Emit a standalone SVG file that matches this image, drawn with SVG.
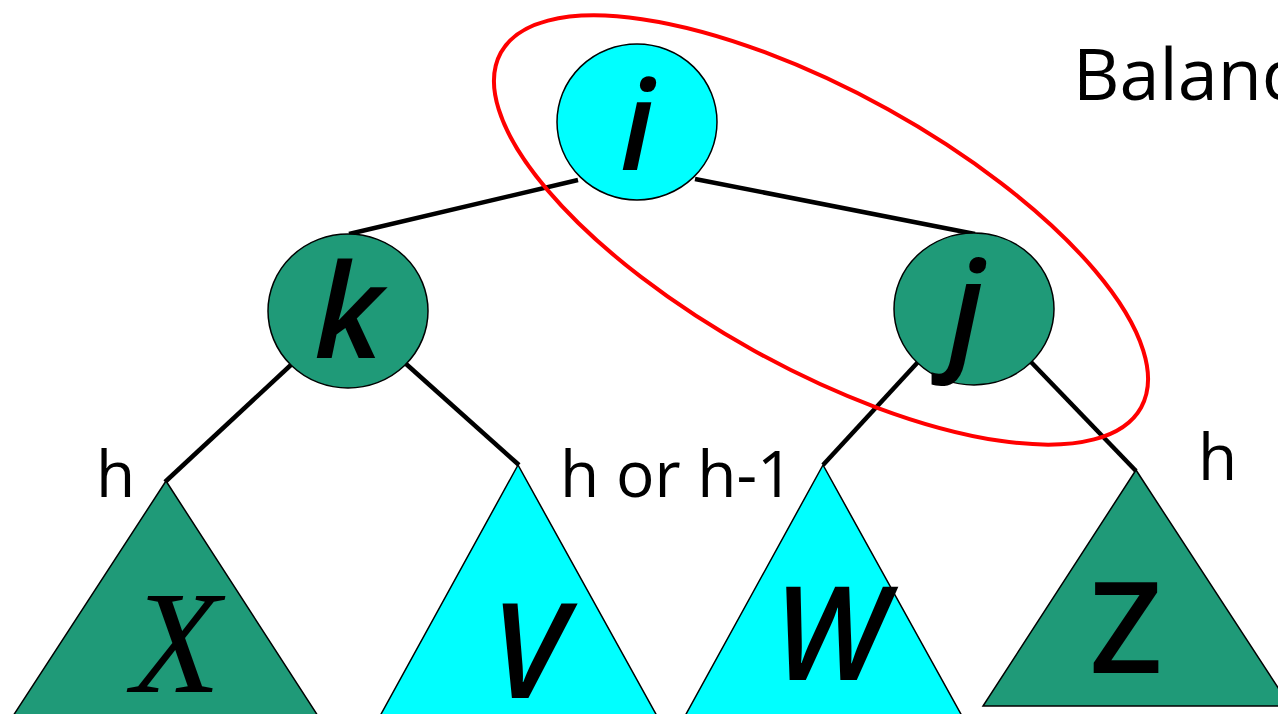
<svg xmlns="http://www.w3.org/2000/svg" width="1278" height="714" viewBox="0 0 1278 714">
<style>
.edge{stroke:#000;stroke-width:4.5;fill:none;stroke-linecap:butt}
.teal{fill:#1F9A78;stroke:#000;stroke-width:1.5}
.cyan{fill:#00FFFF;stroke:#000;stroke-width:1.5}
.lbl{font-family:"Open Sans","Liberation Sans",sans-serif;font-size:64px;fill:#000}
.ital{font-family:"Open Sans","Liberation Sans",sans-serif;font-style:italic;fill:#000;text-anchor:middle}
</style>
<rect width="1278" height="714" fill="#fff"/>
<g id="connectors">
<line class="edge" x1="578" y1="180" x2="349" y2="234"/>
<line class="edge" x1="695" y1="179" x2="975" y2="234"/>
<line class="edge" x1="293" y1="363" x2="165" y2="482"/>
<line class="edge" x1="405" y1="363" x2="519" y2="465"/>
<line class="edge" x1="918" y1="362" x2="823" y2="465"/>
<line class="edge" x1="1031" y1="362" x2="1136" y2="471"/>
</g>
<g id="node-i">
<ellipse class="cyan" cx="637" cy="122" rx="80" ry="78"/>
<text class="ital" x="637" y="170" font-size="125" font-weight="600">i</text>
</g>
<g id="node-k">
<ellipse class="teal" cx="348" cy="311" rx="80" ry="77"/>
<text class="ital" x="348" y="358" font-size="130" font-weight="600">k</text>
</g>
<g id="node-j">
<ellipse class="teal" cx="974" cy="309" rx="80" ry="76"/>
<text class="ital" x="966" y="355" font-size="130" font-weight="600">j</text>
</g>
<g id="tree-X">
<polygon class="teal" points="166,481 13,716 318,716"/>
<text x="176" y="692" font-family="Liberation Serif,serif" font-style="italic" font-size="146" text-anchor="middle">X</text>
</g>
<g id="tree-V">
<polygon class="cyan" points="518,465 380,716 657,716"/>
<text class="ital" x="528" y="698" font-size="132" font-weight="600">V</text>
</g>
<g id="tree-W">
<polygon class="cyan" points="823,465 685,716 962,716"/>
<text class="ital" x="830" y="680" font-size="130" font-weight="600">W</text>
</g>
<g id="tree-Z">
<polygon class="teal" points="1136,470 983,706 1290,706"/>
<text x="1126" y="673" font-family="Open Sans,Liberation Sans,sans-serif" font-size="126" font-weight="600" text-anchor="middle">Z</text>
</g>
<g id="labels">
<text class="lbl" x="96" y="497">h</text>
<text class="lbl" x="560" y="497">h or h-1</text>
<text class="lbl" x="1198" y="480">h</text>
<text x="1073" y="100" font-family="Open Sans,Liberation Sans,sans-serif" font-size="72" fill="#000">Balanc</text>
</g>
<ellipse cx="821" cy="230" rx="366" ry="138" transform="rotate(29 821 230)" fill="none" stroke="#FF0000" stroke-width="4"/>
</svg>
